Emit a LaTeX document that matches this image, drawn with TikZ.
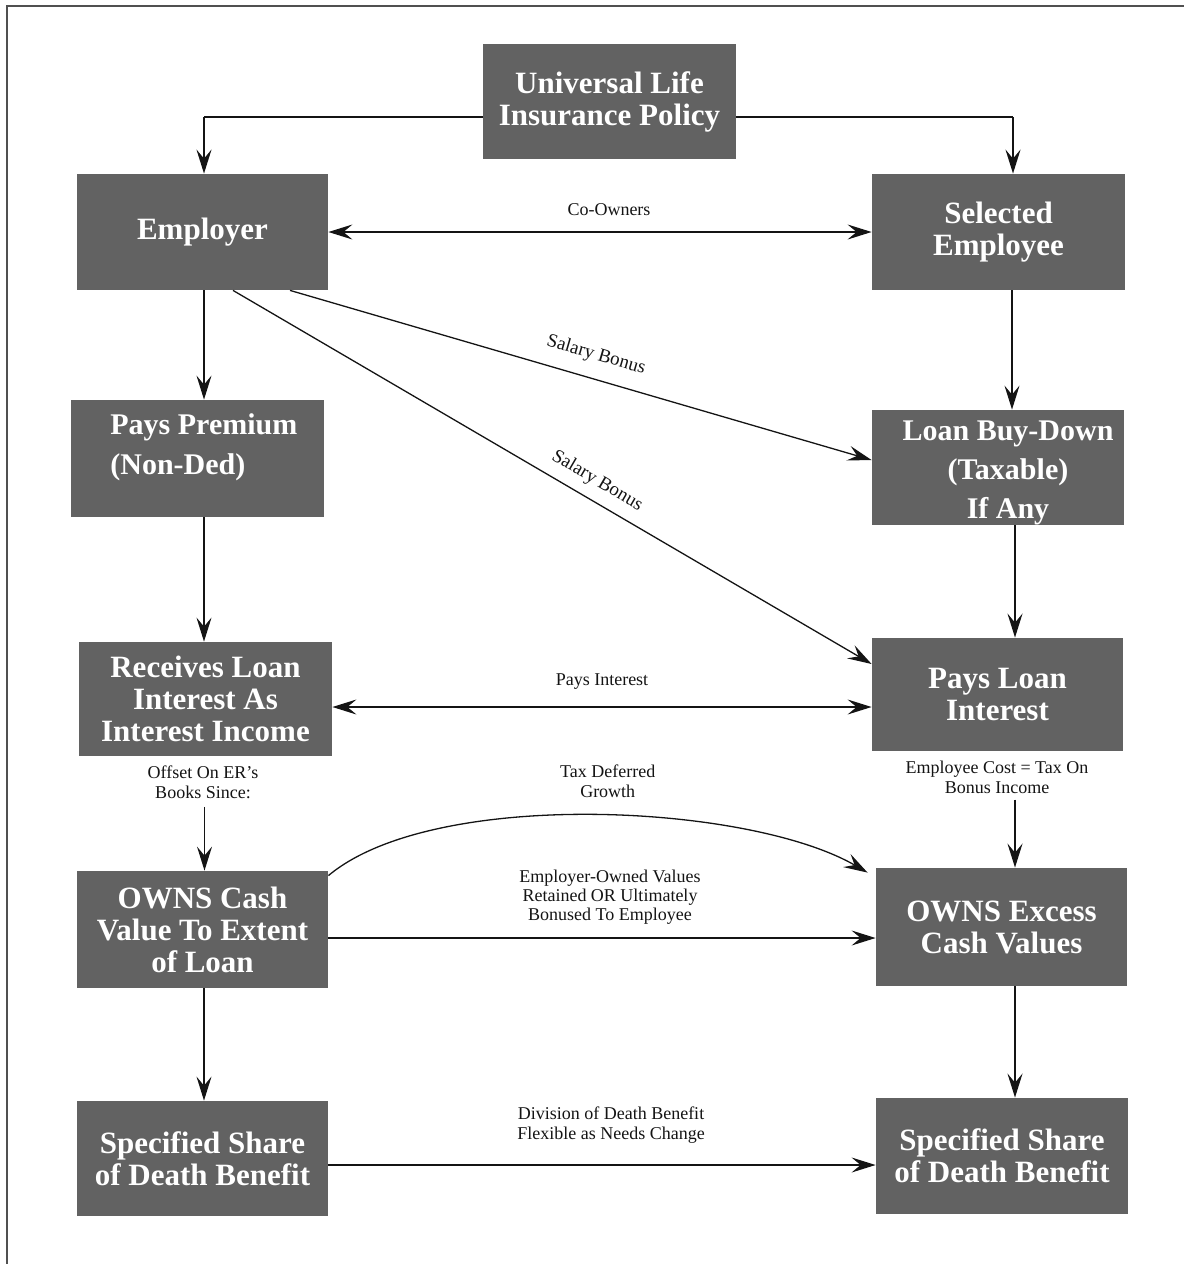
\documentclass[tikz,border=0pt]{standalone}
\usepackage{fontspec}
\setmainfont{Liberation Serif}
\usetikzlibrary{arrows.meta,calc}
\definecolor{boxgray}{RGB}{98,98,98}
\definecolor{framegray}{RGB}{80,80,80}
\definecolor{ink}{RGB}{20,20,20}

\begin{document}
\begin{tikzpicture}[x=0.5pt,y=-0.5pt,
  box/.style={fill=boxgray, text=white, align=center, inner sep=0pt,
    font=\bfseries\fontsize{15.5}{16}\selectfont},
  boxtext/.style={text=white, inner sep=0pt, font=\bfseries\fontsize{15}{20}\selectfont},
  note/.style={text=ink, align=center, inner sep=1pt, font=\fontsize{9}{10}\selectfont},
  tipA/.style={-{Stealth[length=12pt,width=7.5pt,inset=4.5pt]}},
  tipAB/.style={{Stealth[length=12pt,width=7.5pt,inset=4.5pt]}-{Stealth[length=12pt,width=7.5pt,inset=4.5pt]}},
  wire/.style={draw=ink, line width=0.65pt},
  heavy/.style={draw=ink, line width=1.2pt},
]
\useasboundingbox (0,0) rectangle (1184,1264);

% page frame (open at right and bottom)
\draw[framegray, line width=1pt] (7,1264) -- (7,6) -- (1184,6);

% boxes
\node[box, minimum width=126.5pt, minimum height=57.5pt] (ul)  at (609.5,101.5) {Universal Life\\Insurance Policy};
\node[box, minimum width=125.5pt, minimum height=58pt]   (emp) at (202.5,232)   {Employer};
\node[box, minimum width=126.5pt, minimum height=58pt]   (sel) at (998.5,232)   {Selected\\Employee};
\node[box, minimum width=126.5pt, minimum height=58.5pt] (pp)  at (197.5,458.5) {};
\node[boxtext, anchor=west, align=left] (ppt) at (110,447) {Pays Premium\\(Non-Ded)};
\node[box, minimum width=126pt, minimum height=57.5pt]   (lbd) at (998,467.5)   {};
\node[boxtext, align=center, font=\bfseries\fontsize{15}{19.5}\selectfont] (lbdt) at (1008,473) {Loan Buy-Down\\(Taxable)\\If Any};
\node[box, minimum width=126.5pt, minimum height=57pt]   (rec) at (205.5,699)   {Receives Loan\\Interest As\\Interest Income};
\node[box, minimum width=125.5pt, minimum height=56.5pt] (pli) at (997.5,694.5) {Pays Loan\\Interest};
\node[box, minimum width=125.5pt, minimum height=58.5pt] (owc) at (202.5,929.5) {OWNS Cash\\Value To Extent\\of Loan};
\node[box, minimum width=125.5pt, minimum height=59pt]   (owe) at (1001.5,927)  {OWNS Excess\\Cash Values};
\node[box, minimum width=125.5pt, minimum height=57.5pt] (ssl) at (202.5,1158.5) {Specified Share\\of Death Benefit};
\node[box, minimum width=126pt, minimum height=58pt]     (ssr) at (1002,1156)   {Specified Share\\of Death Benefit};

% notes under boxes
\node[note] (offset) at (203,782) {Offset On ER's\\Books Since:};
\node[note] (cost)   at (997,777) {Employee Cost = Tax On\\Bonus Income};

% policy splits to both owners
\coordinate (ulL) at ([yshift=-7.75pt]ul.west);
\coordinate (ulR) at ([yshift=-7.75pt]ul.east);
\coordinate (empIn) at ([xshift=0.75pt]emp.north);
\coordinate (selIn) at ([xshift=7.25pt]sel.north);
\draw[wire] (ulL) -- (ulL -| empIn);
\draw[heavy, tipA] (ulL -| empIn) -- (empIn);
\draw[wire] (ulR) -- (ulR -| selIn);
\draw[heavy, tipA] (ulR -| selIn) -- (selIn);

% co-owners
\draw[wire, tipAB] (emp.east) -- (emp.east -| sel.west)
  node[note, midway, yshift=11pt, xshift=4.5pt] (coown) {Co-Owners};

% employer column
\draw[wire, tipA] ([xshift=0.75pt]emp.south) -- ([xshift=0.75pt]emp.south |- pp.north);
\draw[wire, tipA] ([xshift=3.25pt]pp.south) -- ([xshift=3.25pt]pp.south |- rec.north);
\draw[wire, tipA] ([xshift=0.75pt,yshift=-3pt]offset.south) -- ([xshift=0.75pt]offset.south |- owc.north);
\draw[wire, tipA] ([xshift=0.75pt]owc.south) -- ([xshift=0.75pt]owc.south |- ssl.north);

% employee column
\draw[wire, tipA] ([xshift=6.75pt]sel.south) -- ([xshift=6.75pt]sel.south |- lbd.north);
\draw[heavy, tipA] ([xshift=8.5pt]lbd.south) -- ([xshift=8.5pt]lbd.south |- pli.north);
\draw[heavy, tipA] ([xshift=9pt,yshift=-2pt]cost.south) -- ([xshift=9pt]cost.south |- owe.north);
\draw[heavy, tipA] ([xshift=6.75pt]owe.south) -- ([xshift=6.75pt]owe.south |- ssr.north);

% salary bonuses
\draw[wire, tipA] ([xshift=43.75pt]emp.south) -- ([yshift=3.75pt]lbd.west)
  node[note, pos=0.515, sloped, above=6pt, font=\fontsize{9.5}{10}\selectfont] (bonus1) {Salary Bonus};
\draw[wire, tipA] ([xshift=15.25pt]emp.south) -- ([yshift=15.25pt]pli.west)
  node[note, pos=0.555, sloped, above=4pt, font=\fontsize{9.5}{10}\selectfont] (bonus2) {Salary Bonus};

% loan interest
\draw[wire, tipAB] ([yshift=-4pt]rec.east) -- ([yshift=-4pt]rec.east -| pli.west)
  node[note, midway, yshift=12.5pt] (payint) {Pays Interest};

% cash values
\draw[wire, tipA] ([yshift=-2.5pt]owc.north east)
  .. controls +(105,-88) and +(-119,-69) .. ([xshift=-4pt,yshift=-2.5pt]owe.north west)
  node[note, pos=0.5, xshift=7.5pt, yshift=17pt] (taxdef) {Tax Deferred\\Growth};
\draw[wire, tipA] ([yshift=-4.25pt]owc.east) -- ([yshift=-4.25pt]owc.east -| owe.west)
  node[note, midway, xshift=4pt, yshift=20.5pt, font=\fontsize{9}{9.5}\selectfont] (retained) {Employer-Owned Values\\Retained OR Ultimately\\Bonused To Employee};

% death benefit
\draw[wire, tipA] ([yshift=-3.25pt]ssl.east) -- ([yshift=-3.25pt]ssl.east -| ssr.west)
  node[note, midway, xshift=4.5pt, yshift=20pt] (division) {Division of Death Benefit\\Flexible as Needs Change};

\end{tikzpicture}
\end{document}
